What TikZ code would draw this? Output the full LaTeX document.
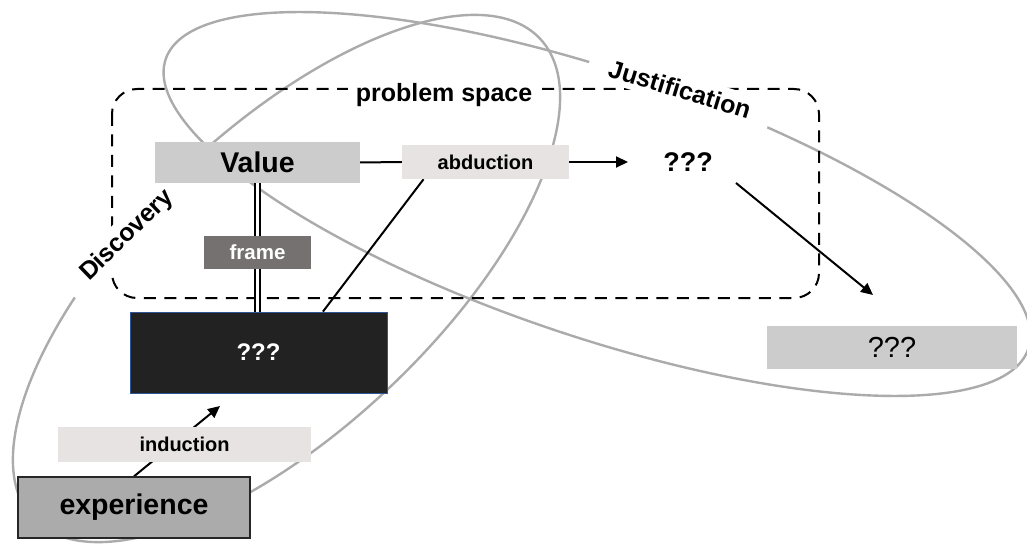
\documentclass[tikz,border=0pt]{standalone}
\usepackage{fontspec}
\setmainfont{Liberation Sans}
\usetikzlibrary{arrows.meta,calc}
\definecolor{ellgray}{HTML}{ABABAB}
\definecolor{boxgray}{HTML}{CCCCCC}
\definecolor{pinkgray}{HTML}{E7E3E3}
\definecolor{framegray}{HTML}{767171}
\definecolor{darkfill}{HTML}{222222}
\definecolor{darkborder}{HTML}{2F5597}
\definecolor{expgray}{HTML}{ABABAB}
\newcommand\fsz[1]{\fontsize{#1}{#1}\selectfont}
\pgfdeclarelayer{back}
\pgfdeclarelayer{mid}
\pgfsetlayers{back,mid,main}
\begin{document}
\begin{tikzpicture}[x=1pt,y=-1pt,
  ell/.style={draw=ellgray, line width=2.4pt},
  boxbase/.style={inner sep=0pt, minimum width=#1},
  conn/.style={draw=black, line width=2pt},
  arr/.style={conn, -{Triangle[length=12pt,width=11pt]}},
  dbl/.style={draw=black, double=white, double distance=2.8pt, line width=2.3pt},
  areal/.style={fill=white, inner xsep=21pt, inner ysep=6pt, font=\fsz{25}\bfseries},
  opbox/.style={fill=pinkgray, font=\fsz{20}\bfseries},
]
\useasboundingbox (0,0) rectangle (1027,545);

% boxes (main layer)
\node[boxbase=205pt, minimum height=41pt, fill=boxgray, font=\fsz{28.5}\bfseries] (value) at (257.5,162.5) {Value};
\node[boxbase=167pt, minimum height=34pt, opbox] (abd) at (485.5,162) {abduction};
\node[inner sep=0pt, font=\fsz{27}\bfseries] (qmid) at (688,162) {???};
\node[boxbase=250pt, minimum height=43pt, fill=boxgray, font=\fsz{29}] (qright) at (892,347.5) {???};
\node[boxbase=107pt, minimum height=33pt, fill=framegray, text=white, font=\fsz{20.5}\bfseries] (frame) at (257.5,252.5) {frame};
\node[boxbase=257pt, minimum height=81pt, fill=darkfill, draw=darkborder, line width=0.8pt, text=white, font=\fsz{24}\bfseries] (dark) at (258.5,352.5) {???};
\node[boxbase=253pt, minimum height=35pt, opbox] (induc) at (184.5,444) {induction};
\node[boxbase=232pt, minimum height=61pt, fill=expgray, draw=black!85, line width=1.3pt, font=\fsz{28.5}\bfseries] (exp) at (134,507.5) {experience};

\coordinate (qtip) at (628,162);
\coordinate (qs) at (736,183);
\coordinate (qe) at (873,295);
\coordinate (indtip) at (220,406);

\begin{pgfonlayer}{back}
  \draw[ell, rotate around={-18.55:(597,204)}] (597,204) ellipse [x radius=455pt, y radius=133pt];
  \draw[ell, rotate around={43.45:(286.5,278.5)}] (286.5,278.5) ellipse [x radius=349pt, y radius=150pt];
  \draw[line width=2pt, dash pattern=on 12pt off 8.5pt, rounded corners=25pt] (112,89) rectangle (819,298);
  \node[fill=white, inner xsep=8pt, inner ysep=4pt, font=\fsz{25}\bfseries] (ps) at (444,95) {problem space};
  \node[areal, rotate=-17] (just) at (680,89) {Justification};
  \node[areal, rotate=44] (disc) at (127.5,235.5) {Discovery};
\end{pgfonlayer}

\begin{pgfonlayer}{mid}
  \draw[conn] (value.east) -- (abd.west);
  \draw[arr] (abd.east) -- (qtip);
  \draw[conn] ($(abd.south west)!0.13!(abd.south east)$) -- ($(dark.north west)!0.75!(dark.north east)$);
  \draw[dbl] (value.south) -- (value.south |- dark.north);
  \draw[arr] (exp.north) -- (indtip);
  \draw[arr] (qs) -- (qe);
\end{pgfonlayer}
\end{tikzpicture}
\end{document}
